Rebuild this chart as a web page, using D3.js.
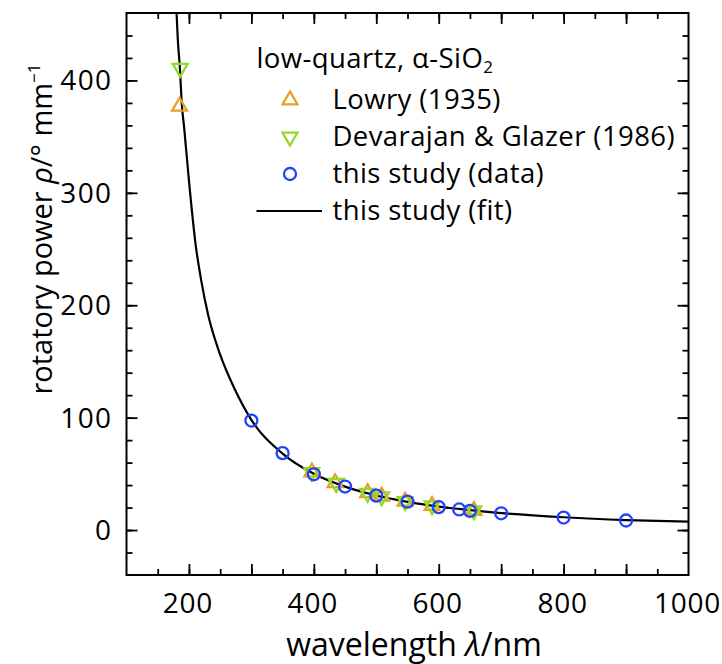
<!DOCTYPE html>
<html>
<head>
<meta charset="utf-8">
<script src="https://cdn.jsdelivr.net/npm/d3@7"></script>
<style>
  body { margin: 0; background: #fff; }
  text { font-family: "Open Sans", sans-serif; fill: #000; }
</style>
</head>
<body>
<div id="chart"></div>
<script>
// rotatory power of low-quartz vs wavelength

const xTicks = [200, 400, 600, 800, 1000];
const yTicks = [0, 100, 200, 300, 400];

// Lowry (1935)
const lowryWl = [185, 396.8, 434.0, 486.1, 508.6, 546.1, 589.3, 656.3];
const lowryRho = [377, 51.6, 42.0, 33.0, 29.9, 25.6, 21.8, 17.4];

// Devarajan & Glazer (1986)
const devWl = [186, 396.8, 435.8, 486.1, 508.6, 546.1, 589.3, 656.3];
const devRho = [411, 51.3, 41.6, 32.8, 29.7, 25.5, 21.7, 17.3];

// this study (data)
const studyWl = [300, 350, 400, 450, 500, 550, 600, 632.8, 650, 700, 800, 900];
const studyRho = [97.4, 68.4, 49.6, 38.7, 30.6, 25.2, 20.4, 18.3, 17.1, 14.9, 11.1, 8.5];

// this study (fit)
const fitWl = [180, 182, 185.6, 188.3, 192.5, 200, 210.7, 220, 230.9, 250, 273.6, 300, 350, 400, 450, 500, 550, 600, 650, 700, 800, 900, 1000];
const fitRho = [462, 438, 410, 381, 357, 311, 254, 221, 191, 156, 125, 98, 68, 50, 38.6, 30.7, 25.1, 20.9, 17.7, 15.1, 11.4, 8.9, 7.4];

const width = 722;
const height = 664;
const marginLeft = 126.5;
const marginRight = 33.5;
const marginTop = 13;
const marginBottom = 89;

const orange = "#e8a02a";
const green = "#8edc28";
const blue = "#2241ff";

const svg = d3.select("#chart").append("svg")
    .attr("width", width)
    .attr("height", height)
    .attr("viewBox", [0, 0, width, height]);

const x = d3.scaleLinear()
    .domain([100, 1000])
    .range([marginLeft, width - marginRight]);

const y = d3.scaleLinear()
    .domain([-40, 460])
    .range([height - marginBottom, marginTop]);

const x0 = x.range()[0], x1 = x.range()[1];
const y0 = y.range()[0], y1 = y.range()[1];

// axes: ticks point inward on all four sides
const minorX = d3.range(150, 1000, 50);
const majorX = d3.range(200, 1000, 100);
const minorY = d3.range(-20, 460, 20);
const majorY = [0, 100, 200, 300, 400];

function styleAxis(g) {
  g.select(".domain").remove();
  g.selectAll(".tick line").attr("stroke", "#000").attr("stroke-width", 1.8);
}

svg.append("g").attr("transform", `translate(0,${y0})`)
    .call(d3.axisBottom(x).tickValues(minorX).tickSize(-6).tickFormat(""))
    .call(styleAxis);
svg.append("g").attr("transform", `translate(0,${y0})`)
    .call(d3.axisBottom(x).tickValues(majorX).tickSize(-11).tickFormat(""))
    .call(styleAxis);
svg.append("g").attr("transform", `translate(0,${y1})`)
    .call(d3.axisTop(x).tickValues(minorX).tickSize(-6).tickFormat(""))
    .call(styleAxis);
svg.append("g").attr("transform", `translate(0,${y1})`)
    .call(d3.axisTop(x).tickValues(majorX).tickSize(-11).tickFormat(""))
    .call(styleAxis);
svg.append("g").attr("transform", `translate(${x0},0)`)
    .call(d3.axisLeft(y).tickValues(minorY).tickSize(-6).tickFormat(""))
    .call(styleAxis);
svg.append("g").attr("transform", `translate(${x0},0)`)
    .call(d3.axisLeft(y).tickValues(majorY).tickSize(-11).tickFormat(""))
    .call(styleAxis);
svg.append("g").attr("transform", `translate(${x1},0)`)
    .call(d3.axisRight(y).tickValues(minorY).tickSize(-6).tickFormat(""))
    .call(styleAxis);
svg.append("g").attr("transform", `translate(${x1},0)`)
    .call(d3.axisRight(y).tickValues(majorY).tickSize(-11).tickFormat(""))
    .call(styleAxis);

// tick labels
svg.append("g").attr("transform", `translate(0,${y0})`)
    .call(d3.axisBottom(x).tickValues(xTicks).tickSize(0).tickFormat(d3.format("d")))
    .call(g => g.select(".domain").remove())
    .call(g => g.selectAll("text")
        .attr("y", 38).attr("dy", null).attr("dx", -1.5)
        .attr("font-size", 28).attr("letter-spacing", 0.8)
        .attr("font-family", "Open Sans"));

svg.append("g").attr("transform", `translate(${x0},0)`)
    .call(d3.axisLeft(y).tickValues(yTicks).tickSize(0).tickFormat(d3.format("d")))
    .call(g => g.select(".domain").remove())
    .call(g => g.selectAll("text")
        .attr("x", -14).attr("dy", "0.34em")
        .attr("font-size", 28).attr("letter-spacing", 1.4)
        .attr("font-family", "Open Sans"));

// frame
svg.append("rect")
    .attr("x", x0).attr("y", y1)
    .attr("width", x1 - x0).attr("height", y0 - y1)
    .attr("fill", "none").attr("stroke", "#000").attr("stroke-width", 2);

// clip for the fit curve
svg.append("clipPath").attr("id", "plot-clip")
  .append("rect")
    .attr("x", x0).attr("y", y1)
    .attr("width", x1 - x0).attr("height", y0 - y1);

const fit = fitWl.map((d, i) => [d, fitRho[i]]);
svg.append("path")
    .datum(fit)
    .attr("clip-path", "url(#plot-clip)")
    .attr("fill", "none")
    .attr("stroke", "#000")
    .attr("stroke-width", 2.2)
    .attr("d", d3.line()
        .x(d => x(d[0]))
        .y(d => y(d[1]))
        .curve(d3.curveMonotoneX));

const tri = d3.symbol().type(d3.symbolTriangle).size(95);

// Lowry: up triangles
svg.append("g")
    .selectAll("path")
    .data(lowryWl.map((d, i) => [d, lowryRho[i]]))
    .join("path")
    .attr("d", tri)
    .attr("transform", d => `translate(${x(d[0])},${y(d[1])})`)
    .attr("fill", "none")
    .attr("stroke", orange)
    .attr("stroke-width", 2.3);

// Devarajan & Glazer: down triangles
svg.append("g")
    .selectAll("path")
    .data(devWl.map((d, i) => [d, devRho[i]]))
    .join("path")
    .attr("d", tri)
    .attr("transform", d => `translate(${x(d[0])},${y(d[1])}) rotate(180)`)
    .attr("fill", "none")
    .attr("stroke", green)
    .attr("stroke-width", 2.3);

// this study: circles
svg.append("g")
    .selectAll("circle")
    .data(studyWl.map((d, i) => [d, studyRho[i]]))
    .join("circle")
    .attr("cx", d => x(d[0]))
    .attr("cy", d => y(d[1]))
    .attr("r", 6)
    .attr("fill", "none")
    .attr("stroke", blue)
    .attr("stroke-width", 2.3);

// legend
const legend = svg.append("g")
    .attr("font-size", 27.5)
    .attr("letter-spacing", 0.4);

const header = legend.append("text")
    .attr("x", 256.5).attr("y", 68);
header.append("tspan").text("low-quartz, α-SiO");
header.append("tspan").attr("font-size", 17).attr("dy", 5).text("2");

const items = [
  { label: "Lowry (1935)", kind: "up", color: orange },
  { label: "Devarajan & Glazer (1986)", kind: "down", color: green },
  { label: "this study (data)", kind: "circle", color: blue },
  { label: "this study (fit)", kind: "line", color: "#000" }
];

items.forEach((it, i) => {
  const cy = 100 + i * 37;
  if (it.kind === "up" || it.kind === "down") {
    legend.append("path")
        .attr("d", tri)
        .attr("transform", `translate(290,${cy})` + (it.kind === "down" ? " rotate(180)" : ""))
        .attr("fill", "none").attr("stroke", it.color).attr("stroke-width", 2.3);
  } else if (it.kind === "circle") {
    legend.append("circle")
        .attr("cx", 290).attr("cy", cy).attr("r", 6)
        .attr("fill", "none").attr("stroke", it.color).attr("stroke-width", 2.3);
  } else {
    legend.append("line")
        .attr("x1", 256.5).attr("x2", 322).attr("y1", cy).attr("y2", cy)
        .attr("stroke", it.color).attr("stroke-width", 2.2);
  }
  legend.append("text")
      .attr("x", 332.5).attr("y", cy + 9)
      .text(it.label);
});

// axis titles
const xTitle = svg.append("text")
    .attr("x", 414).attr("y", 656)
    .attr("text-anchor", "middle")
    .attr("font-size", 32);
xTitle.append("tspan").text("wavelength ");
xTitle.append("tspan").attr("font-style", "italic").text("λ");
xTitle.append("tspan").text("/nm");

const yTitle = svg.append("text")
    .attr("transform", "translate(52,229) rotate(-90)")
    .attr("text-anchor", "middle")
    .attr("font-size", 29);
yTitle.append("tspan").text("rotatory power ");
yTitle.append("tspan").attr("font-style", "italic").text("ρ");
yTitle.append("tspan").text("/° mm");
yTitle.append("tspan").attr("font-size", 17).attr("dy", -12).text("−1");
</script>
</body>
</html>
